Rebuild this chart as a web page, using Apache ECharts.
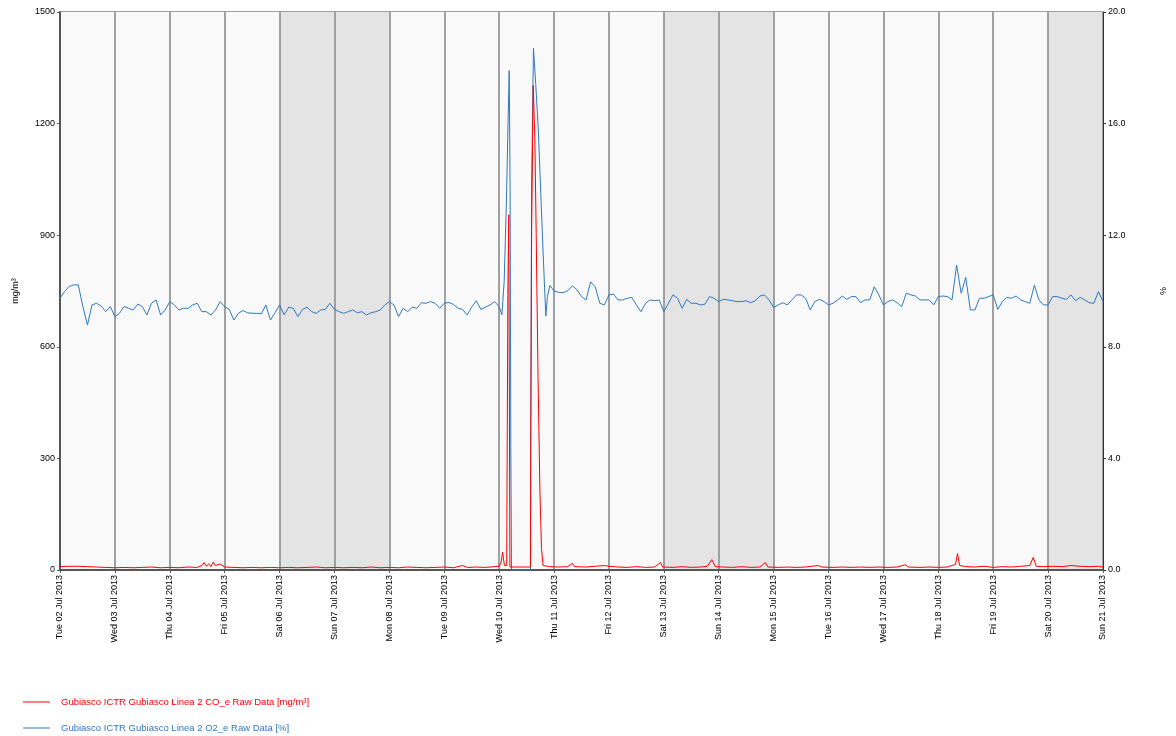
<!DOCTYPE html>
<html>
<head>
<meta charset="utf-8">
<script src="https://cdn.jsdelivr.net/npm/echarts@6/dist/echarts.min.js"></script>
<style>
html,body{margin:0;padding:0;background:#fff;}
#chart{width:1176px;height:736px;}
</style>
</head>
<body>
<div id="chart"></div>
<script>
// Day tick labels (one per 24 h)
const dayLabels = ["Tue 02 Jul 2013","Wed 03 Jul 2013","Thu 04 Jul 2013","Fri 05 Jul 2013","Sat 06 Jul 2013","Sun 07 Jul 2013","Mon 08 Jul 2013","Tue 09 Jul 2013","Wed 10 Jul 2013","Thu 11 Jul 2013","Fri 12 Jul 2013","Sat 13 Jul 2013","Sun 14 Jul 2013","Mon 15 Jul 2013","Tue 16 Jul 2013","Wed 17 Jul 2013","Thu 18 Jul 2013","Fri 19 Jul 2013","Sat 20 Jul 2013","Sun 21 Jul 2013"];

const coName = "Gubiasco ICTR Gubiasco Linea 2 CO_e Raw Data [mg/m³]";
const o2Name = "Gubiasco ICTR Gubiasco Linea 2 O2_e Raw Data [%]";

// O2 [%], 2-hourly from Tue 02 00:00 to Wed 10 00:00 (hours 0..192)
const o2Before = [
 9.74, 9.98,10.16,10.22,10.22, 9.44, 8.78, 9.50, 9.56, 9.46, 9.26, 9.44,
 9.08, 9.20, 9.44, 9.38, 9.32, 9.53, 9.44, 9.14, 9.56, 9.68, 9.14, 9.32,
 9.62, 9.50, 9.32, 9.38, 9.38, 9.50, 9.56, 9.26, 9.26, 9.14, 9.32, 9.62,
 9.44, 9.34, 8.96, 9.20, 9.30, 9.22, 9.20, 9.20, 9.18, 9.50, 8.96, 9.22,
 9.50, 9.14, 9.42, 9.38, 9.08, 9.34, 9.42, 9.26, 9.20, 9.32, 9.34, 9.56,
 9.34, 9.26, 9.20, 9.26, 9.32, 9.22, 9.26, 9.14, 9.22, 9.26, 9.32, 9.50,
 9.62, 9.50, 9.08, 9.38, 9.26, 9.42, 9.38, 9.58, 9.56, 9.62, 9.56, 9.38,
 9.56, 9.59, 9.52, 9.38, 9.34, 9.14, 9.42, 9.65, 9.34, 9.42, 9.50, 9.62,
 9.44
];
// O2 [%] around the Wed 10 event: [hour, value]
const o2Spike = [
 [193.2,9.15],[194.2,10.35],[195.2,13.3],[195.9,16.1],[196.4,17.9],[196.8,13.4],[197.1,4.4],[197.4,0],
 [205.7,0],[205.8,4.6],[206.2,13.8],[207.0,18.7],[208.0,17.4],[209.1,15.8],[210.2,13.5],[211.2,11.4],
 [212.4,9.1],[213.1,9.8],[214.2,10.2]
];
// O2 [%], 2-hourly from Thu 11 00:00 to Sun 21 00:00 (hours 216..456)
const o2After = [
 10.00, 9.95, 9.94,10.01,10.19,10.04, 9.80, 9.68,10.33,10.15, 9.56, 9.50,
 9.86, 9.89, 9.68, 9.68, 9.74, 9.77, 9.50, 9.26, 9.56, 9.68, 9.65, 9.68,
 9.26, 9.56, 9.86, 9.74, 9.38, 9.70, 9.56, 9.56, 9.50, 9.53, 9.80, 9.74,
 9.62, 9.70, 9.68, 9.65, 9.62, 9.62, 9.65, 9.58, 9.65, 9.82, 9.86, 9.68,
 9.41, 9.50, 9.58, 9.50, 9.68, 9.86, 9.86, 9.74, 9.32, 9.62, 9.70, 9.62,
 9.50, 9.56, 9.68, 9.82, 9.70, 9.80, 9.80, 9.58, 9.68, 9.68,10.15, 9.86,
 9.50, 9.62, 9.68, 9.58, 9.44, 9.92, 9.86, 9.82, 9.68, 9.68, 9.68, 9.50,
 9.80, 9.82, 9.80, 9.68,10.93, 9.92,10.49, 9.32, 9.32, 9.74, 9.74, 9.80,
 9.86, 9.34, 9.62, 9.77, 9.74, 9.82, 9.68, 9.62, 9.56,10.21, 9.68, 9.50,
 9.50, 9.80, 9.80, 9.74, 9.70, 9.86, 9.65, 9.77, 9.68, 9.58, 9.56, 9.98,
 9.62
];
// CO [mg/m³]: [hour, value]
const coPoints = [
 [0,9],[4,10],[8,10],[12,9],[16,8],[20,7],[24,6],[28,7],[32,6],[36,7],[40,8],[44,6],[48,7],[52,6],[56,8],[60,7],
 [62,12],[63,20],[64,10],[65,17],[66,9],[67,21],[68,12],[70,16],[72,8],[76,7],[80,6],[84,7],[88,6],[92,7],[96,6],
 [100,7],[104,6],[108,7],[112,8],[116,6],[120,7],[124,6],[128,7],[132,6],[136,8],[140,6],[144,7],[148,6],[152,8],
 [156,7],[160,6],[164,7],[168,8],[172,6],[176,12],[178,7],[182,8],[186,7],[190,9],[192,10],[192.8,19],[193.5,48],
 [194.3,12],[195.3,12],[195.8,740],[196.2,955],[196.7,8],[205.7,8],[205.8,307],[206.2,920],[206.9,1303],[207.6,1160],
 [208.2,901],[209.0,518],[209.8,220],[210.5,58],[211.2,12],[214,9],[218,8],[222,9],[224,18],[225,9],[230,8],[234,10],
 [238,12],[240,10],[244,8],[248,7],[252,9],[256,7],[260,8],[262.6,20],[263.5,8],[268,7],[272,9],[276,7],[280,8],
 [283,10],[285,28],[286.5,9],[290,8],[294,7],[298,9],[302,7],[306,8],[308.4,20],[309.5,8],[314,7],[318,8],[322,7],
 [326,8],[331.6,12],[333,8],[338,7],[342,8],[346,7],[350,8],[354,7],[358,8],[362,7],[366,8],[369.5,14],[371,8],
 [376,7],[380,8],[384,7],[388,8],[391.5,15],[392.4,44],[393.3,12],[396,9],[400,8],[404,10],[408,7],[412,9],[416,8],
 [420,10],[424,12],[425.5,34],[426.8,10],[430,9],[434,10],[438,9],[442,12],[446,10],[450,9],[454,10],[456,8]
];

const o2Data = [];
o2Before.forEach((v, i) => o2Data.push([i * 2, v]));
o2Spike.forEach(p => o2Data.push(p));
o2After.forEach((v, i) => o2Data.push([216 + i * 2, v]));

const bandColors = [];
for (let i = 0; i < dayLabels.length - 1; i++) {
  const d = dayLabels[i];
  bandColors.push(d.startsWith('Sat') || d.startsWith('Sun') ? '#e4e4e4' : '#f9f9f9');
}

const FONT = 'Liberation Sans, Arial, sans-serif';
const RED = '#ff0000';
const BLUE = '#2f78c0';
function makeLegend(name, color, top) {
  return {
    orient: 'vertical', left: 23, top: top, padding: 0,
    itemWidth: 27, itemHeight: 1, icon: 'rect',
    textStyle: {fontFamily: FONT, fontSize: 9.5, color: color, padding: [0, 0, 0, 6]},
    data: [name]
  };
}
const chart = echarts.init(document.getElementById('chart'), null, {renderer: 'canvas'});
chart.setOption({
  animation: false,
  backgroundColor: '#ffffff',
  grid: {left: 60, right: 67, top: 12, bottom: 166, show: true, borderColor: '#555555', borderWidth: 1, backgroundColor: 'transparent'},
  legend: [makeLegend(coName, RED, 697), makeLegend(o2Name, BLUE, 723)],
  xAxis: {
    type: 'value', min: 0, max: 456, interval: 24,
    axisLine: {show: true, lineStyle: {color: '#555555', width: 2}},
    axisTick: {show: true, length: 3, lineStyle: {color: '#555555'}},
    axisLabel: {rotate: 90, margin: 5, fontFamily: FONT, fontSize: 9, color: '#000',
      formatter: v => dayLabels[Math.round(v / 24)] || ''},
    splitLine: {show: true, lineStyle: {color: '#a0a0a0', width: 2}},
    splitArea: {show: true, areaStyle: {color: bandColors}}
  },
  yAxis: [
    {
      type: 'value', min: 0, max: 1500, interval: 300, position: 'left',
      name: 'mg/m³', nameLocation: 'middle', nameGap: 40, nameRotate: 90,
      nameTextStyle: {fontFamily: FONT, fontSize: 9, color: '#000'},
      axisLine: {show: true, lineStyle: {color: '#555555', width: 2}},
      axisTick: {show: true, length: 3, lineStyle: {color: '#555555'}},
      axisLabel: {fontFamily: FONT, fontSize: 9, color: '#000', margin: 5, formatter: v => String(v)},
      splitLine: {show: true, lineStyle: {color: '#a0a0a0', width: 2}}
    },
    {
      type: 'value', min: 0, max: 20, interval: 4, position: 'right',
      name: '%', nameLocation: 'middle', nameGap: 56, nameRotate: 90,
      nameTextStyle: {fontFamily: FONT, fontSize: 9, color: '#000'},
      axisLine: {show: true, lineStyle: {color: '#333333', width: 1}},
      axisTick: {show: true, length: 3, lineStyle: {color: '#333333'}},
      axisLabel: {fontFamily: FONT, fontSize: 9, color: '#000', margin: 5, formatter: v => v.toFixed(1)},
      splitLine: {show: false}
    }
  ],
  series: [
    {
      name: coName, type: 'line', yAxisIndex: 0, data: coPoints, symbol: 'none', showSymbol: false,
      lineStyle: {color: RED, width: 1}, itemStyle: {color: RED}, z: 3
    },
    {
      name: o2Name, type: 'line', yAxisIndex: 1, data: o2Data, symbol: 'none', showSymbol: false,
      lineStyle: {color: BLUE, width: 1}, itemStyle: {color: BLUE}, z: 2
    }
  ]
});
</script>
</body>
</html>
